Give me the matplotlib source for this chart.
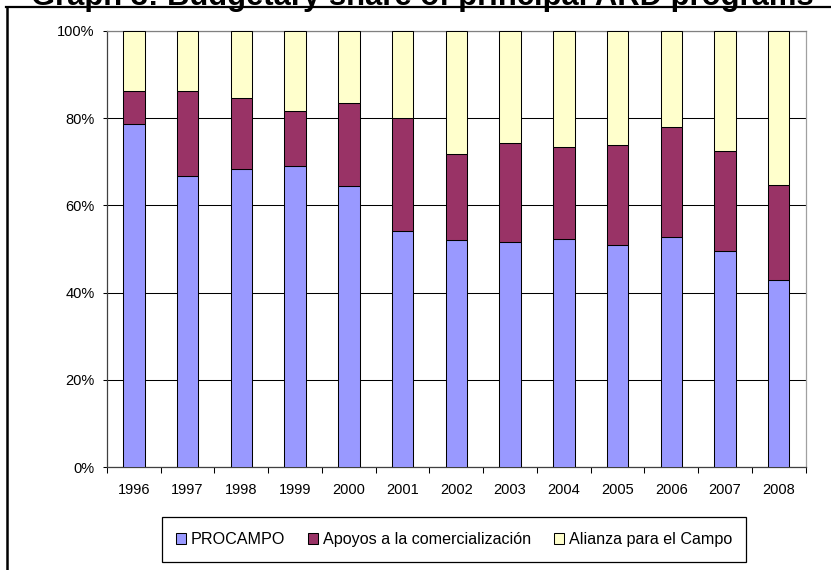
import matplotlib
matplotlib.use("Agg")
import matplotlib.pyplot as plt
from matplotlib.patches import Rectangle
from matplotlib.lines import Line2D
import numpy as np

plt.rcParams['font.family'] = ['Liberation Sans', 'DejaVu Sans']

years = ['1996', '1997', '1998', '1999', '2000', '2001', '2002',
         '2003', '2004', '2005', '2006', '2007', '2008']
procampo = [78.6, 66.8, 68.4, 69.0, 64.5, 54.2, 52.1, 51.6, 52.2, 51.0, 52.8, 49.5, 42.9]
apoyos = [7.6, 19.3, 16.1, 12.7, 19.0, 25.8, 19.6, 22.6, 21.1, 22.9, 25.2, 23.0, 21.8]
alianza = [13.8, 13.9, 15.5, 18.3, 16.5, 20.0, 28.3, 25.8, 26.7, 26.1, 22.0, 27.5, 35.3]
series_names = ['PROCAMPO', 'Apoyos a la comercialización', 'Alianza para el Campo']
colors = ['#9999FF', '#993366', '#FFFFCC']
yticks = [0, 20, 40, 60, 80, 100]
ytick_labels = ['0%', '20%', '40%', '60%', '80%', '100%']
title = 'Graph 3: Budgetary share of principal ARD programs'

W, H = 831, 570
fig = plt.figure(figsize=(W / 100, H / 100), dpi=100)

def fx(px):
    return px / W

def fy(py):
    return 1 - py / H

ax = fig.add_axes([fx(107), fy(467.3), fx(805.7) - fx(107), fy(30.7) - fy(467.3)])

x = np.arange(len(years))
bw = 0.397
bottom = np.zeros(len(years))
for vals, col, name in zip([procampo, apoyos, alianza], colors, series_names):
    ax.bar(x, vals, bw, bottom=bottom, color=col, edgecolor='black',
           linewidth=0.75, label=name, zorder=3)
    bottom = bottom + np.array(vals)

ax.set_xlim(-0.5, len(years) - 0.5)
ax.set_ylim(0, 100)

ax.set_yticks(yticks)
ax.set_yticklabels(ytick_labels)
ax.tick_params(axis='y', direction='out', length=3.2, width=0.75, pad=5.8,
               labelsize=10.5, colors='black')

ax.set_xticks(np.arange(-0.5, len(years), 1.0))
ax.set_xticklabels([])
ax.set_xticks(x, minor=True)
ax.set_xticklabels(years, minor=True)
ax.tick_params(axis='x', which='major', direction='out', length=4, width=0.75)
ax.tick_params(axis='x', which='minor', length=0, pad=11, labelsize=10.5)

ax.yaxis.grid(True, color='black', linewidth=0.75, zorder=0)
ax.set_axisbelow(True)

ax.spines['left'].set_color('#404040')
ax.spines['bottom'].set_color('#404040')
ax.spines['top'].set_color('#808080')
ax.spines['right'].set_color('#A0A0A0')
for s in ax.spines.values():
    s.set_linewidth(0.9)

# Legend
leg = fig.legend(loc='center', bbox_to_anchor=(fx(454), fy(539.5)),
                 ncol=3, frameon=False, fontsize=11.6,
                 handlelength=0.62, handleheight=0.62, handletextpad=0.31,
                 columnspacing=1.4, borderpad=0.0)
for p in leg.get_patches():
    p.set_linewidth(0.75)
fig.patches.append(Rectangle((fx(162.3), fy(561.7)), fx(745.7) - fx(162.3),
                             fy(516.7) - fy(561.7), transform=fig.transFigure,
                             fill=False, edgecolor='black', linewidth=0.9))

# Outer frame (partially visible)
fig.lines.append(Line2D([fx(7.3), fx(7.3)], [fy(7), 0], transform=fig.transFigure,
                        color='black', linewidth=1.8))
fig.lines.append(Line2D([fx(6.4), 1], [fy(7), fy(7)], transform=fig.transFigure,
                        color='black', linewidth=1.6))

# Clipped title, sized to its measured width
t = fig.text(fx(422.5), fy(4.5), title, ha='center', va='baseline',
             fontsize=16, fontweight='bold')
fig.canvas.draw()
bb = t.get_window_extent(renderer=fig.canvas.get_renderer())
t.set_fontsize(16 * 780 / bb.width)

fig.savefig('out.png', dpi=100)
